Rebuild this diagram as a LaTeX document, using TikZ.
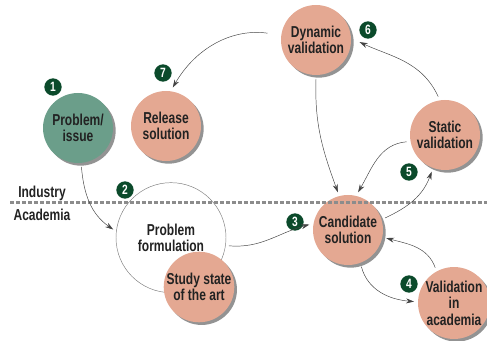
\documentclass[tikz,border=0pt]{standalone}
\usepackage{fontspec}
\setmainfont{Liberation Sans}[FakeStretch=0.76]
\usepackage{xcolor}
\usepackage{tikz}
\usetikzlibrary{shapes,arrows,positioning,calc,shadows,arrows.meta}
\definecolor{salmon}{HTML}{E4A892}
\definecolor{sage}{HTML}{6B9E8A}
\definecolor{badgegreen}{HTML}{0B4A2B}
\definecolor{inkgray}{HTML}{222222}
\newcommand{\stagefont}{\fontsize{13.5}{14}\selectfont\bfseries}

\begin{document}
\begin{tikzpicture}[
    stage/.style={circle, fill=salmon, minimum size=2.1cm, inner sep=0pt, outer sep=0.12cm, align=center, font=\stagefont, text=inkgray, drop shadow={shadow xshift=0.08cm, shadow yshift=-0.08cm, fill=gray!85, opacity=1}},
    badge/.style={circle, fill=badgegreen, minimum size=0.52cm, inner sep=0pt, text=white, font=\fontsize{11.5}{11.5}\selectfont\bfseries},
    zone/.style={font=\stagefont, text=inkgray},
    arrow/.style={thin, draw=inkgray!85, -{Stealth[length=2.4mm,width=1.5mm]}}
]
    \useasboundingbox (0,0) rectangle (14.61,10.23);

    \node[stage, fill=sage] (P) at (2.34, 6.39) {Problem/\\issue};
    \node[stage] (R) at (4.98, 6.45) {Release\\solution};
    \node[stage] (D) at (9.48, 9.03) {Dynamic\\validation};
    \node[stage] (S) at (13.35, 6.18) {Static\\validation};
    \node[stage] (C) at (10.44, 3.33) {Candidate\\solution};
    \node[stage] (V) at (13.62, 1.14) {Validation\\in\\academia};
    \node[circle, draw=gray, thin, fill=white, minimum size=3.3cm, outer sep=0.1cm, align=center, font=\stagefont, text=inkgray] (F) at (5.13, 3.1) {Problem\\formulation};
    \node[stage] (A) at (5.97, 1.62) {Study state\\of the art};

    % Industry / Academia border
    \coordinate (lineL) at (0.3, 4.14);
    \coordinate (lineR) at (14.61, 4.14);
    \draw[gray!90, line width=0.09cm, dash pattern=on 0.12cm off 0.06cm] (lineL) -- (lineR);
    \node[zone] (ind) at (1.26, 4.44) {Industry};
    \node[zone] (aca) at (1.26, 3.78) {Academia};

    \node[badge] (b1) at (1.59, 7.62) {1};
    \node[badge] (b2) at (3.75, 4.53) {2};
    \node[badge] (b3) at (8.85, 3.57) {3};
    \node[badge] (b4) at (12.27, 1.71) {4};
    \node[badge] (b5) at (12.27, 5.07) {5};
    \node[badge] (b6) at (11.04, 9.33) {6};
    \node[badge] (b7) at (4.89, 8.04) {7};

    \draw[arrow] (P.-85) to[out=-85, in=145] (F.172);
    \draw[arrow] (F.-8) to[out=-5, in=195] (C.172);
    \draw[arrow] (C.-70) to[out=-75, in=175] (V.178);
    \draw[arrow] (V.118) to[out=110, in=-15] (C.-12);
    \draw[arrow] (C.18) to[out=25, in=-110] (S.-110);
    \draw[arrow] (S.190) to[out=185, in=60] (C.75);
    \draw[arrow] (D.-90) to[out=-92, in=110] (C.105);
    \draw[arrow, shorten >=0.15cm] (S.100) to[out=115, in=-25] (D.0);
    \draw[arrow, shorten <=0.3cm] (D.172) to[out=172, in=60] (R.80);

\end{tikzpicture}
\end{document}
